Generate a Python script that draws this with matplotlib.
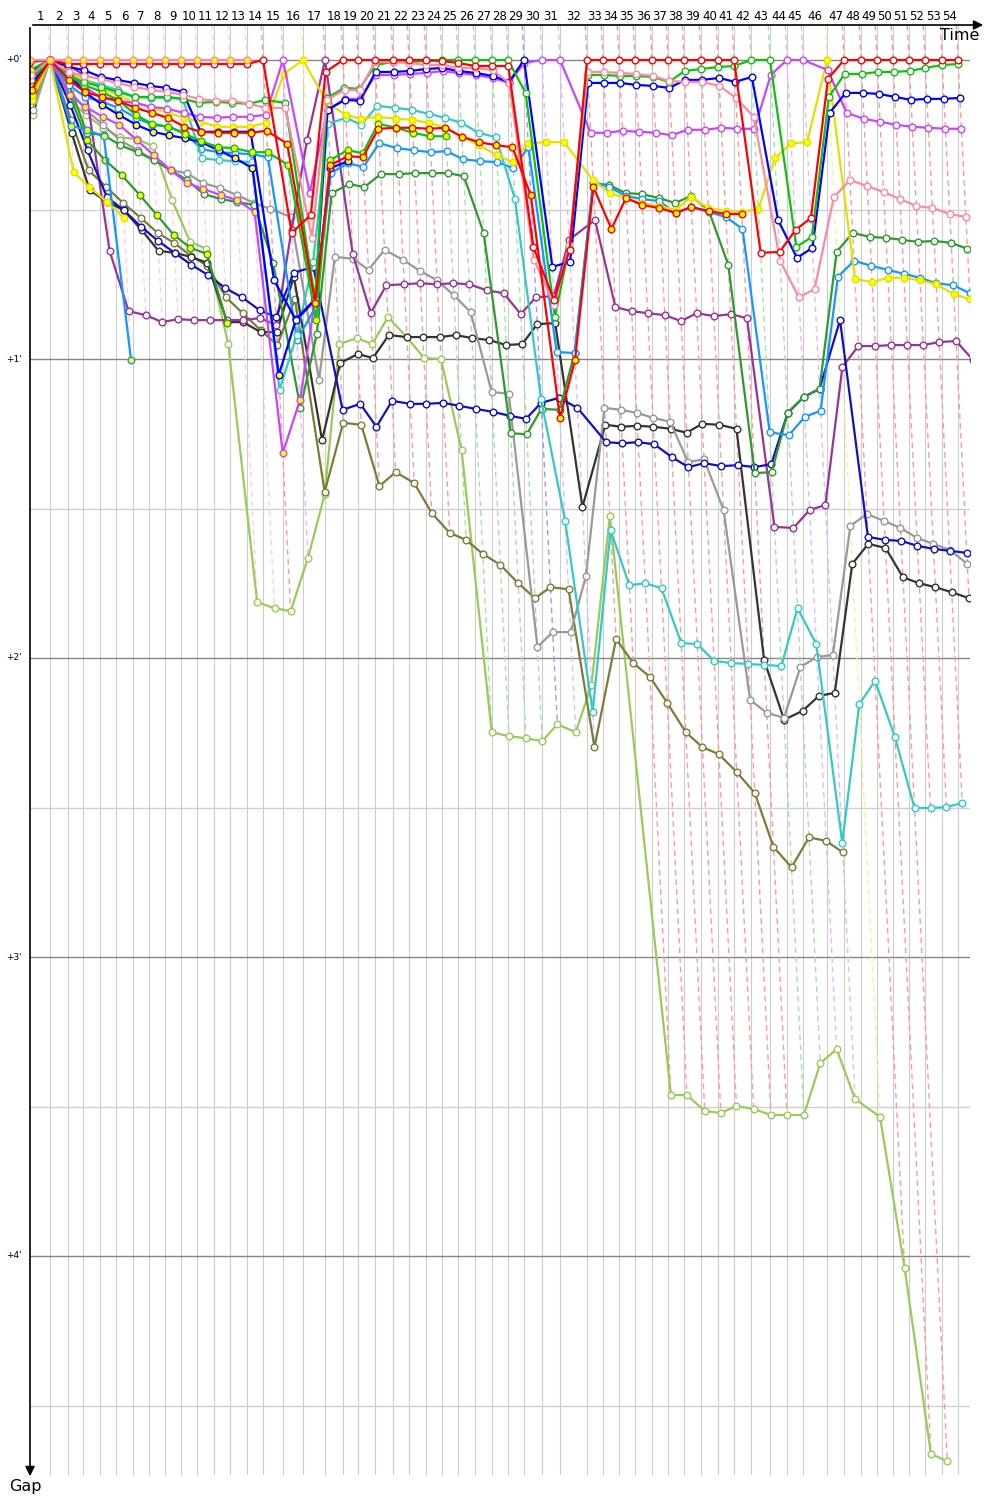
import matplotlib
matplotlib.use("Agg")
import matplotlib.pyplot as plt
from matplotlib.colors import to_rgb
from matplotlib.transforms import blended_transform_factory

# leader's race time at the end of each lap, in seconds (index = lap, 0 = start)
lap_end = [0, 80, 152, 212, 280, 344, 412, 476, 540, 604, 668, 736, 800, 868, 932,
           1012, 1092, 1180, 1252, 1312, 1380, 1452, 1516, 1584, 1648, 1712, 1780,
           1848, 1912, 1976, 2048, 2120, 2228, 2292, 2356, 2420, 2488, 2552, 2616,
           2684, 2752, 2816, 2884, 2960, 3028, 3092, 3188, 3256, 3324, 3388, 3452,
           3516, 3580, 3648, 3712]
lap_labels = [str(n) for n in range(1, 55)]
gap_ticks = [0, 60, 120, 180, 240]
gap_tick_labels = ["+0'", "+1'", "+2'", "+3'", "+4'"]

# gap to the leader in seconds, lap 0 .. last lap completed
pink_y = [0, 0, 0, 0, 0, 0, 0, 0, 0, 0, 0, 0, 0, 0]
red_w = [0.4, 0, 0.8, 0.8, 0.8, 0.8, 0.8, 0.8, 0.8, 0.8, 0.8, 0.8, 0.8, 0.8, 0, 34.7, 31.1, 2.4,
         0, 0, 0, 0, 0, 0, 0.2, 0.6, 1.2, 1.2, 1.2, 37.5, 48.2, 38.1,
         0, 0, 0, 0, 0, 0, 0, 0, 0, 0, 38.7, 38.5, 34.1, 31.7, 3.8, 0, 0, 0, 0, 0, 0, 0, 0]
red_y = [6.0, 0, 4.0, 6.4, 7.4, 8.2, 9.6, 10.6, 11.6, 13.4, 14.4, 14.6, 14.6, 14.6, 14.2, 16.8,
         48.8, 21.1, 19.3, 19.5, 13.8, 13.6, 13.6, 13.8, 13.6, 15.4, 16.5, 17.1, 17.5, 27.1,
         71.8, 60.2, 25.5, 33.9, 27.7, 29.1, 29.7, 30.7, 29.5, 30.3, 30.9, 30.9]
pink_w = [3.0, 0, 2.4, 3.2, 3.8, 4.6, 5.4, 6.0, 6.4, 7.0, 7.8, 8.2, 8.2, 8.8, 9.6, 9.6, 35.7, 8.0,
          6.0, 6.0, 0.4, 0.4, 0.6, 1.0, 1.0, 1.6, 1.6, 2.0, 4.6, 40.1, 49.2, 37.1, 2.4, 2.4, 2.6,
          2.8, 3.2, 4.2, 4.4, 4.4, 5.2, 7.6, 11.4, 40.3, 47.6, 46.0, 27.5, 24.1, 25.3, 26.5, 27.9,
          29.3, 29.7, 30.9, 31.5]
green_w = [4.0, 0, 3.4, 4.4, 5.4, 6.4, 7.4, 7.4, 7.4, 7.8, 8.6, 8.4, 8.6, 8.8, 8.0, 8.6, 48.2, 7.6,
           5.6, 5.8, 1.0, 0.4, 0.4, 0.2, 0, 0, 0, 0, 0, 6.6, 51.6, 37.3, 3.0, 3.0, 3.2, 3.2, 3.4,
           4.4, 2.2, 1.8, 1.4, 1.2, 0, 0, 37.5, 35.5, 7.4, 2.8, 2.8, 2.4, 2.4, 2.2, 1.6, 1.0, 0.8]
green_y = [2.0, 0, 3.2, 5.0, 6.4, 8.0, 11.0, 12.8, 13.4, 14.8, 16.3, 17.5, 17.7, 18.5, 18.5, 21.1,
           52.2, 20.1, 18.1, 18.7, 12.8, 13.6, 14.6, 15.3, 15.3]
blue_w = [2.4, 0, 1.4, 2.0, 3.4, 4.0, 4.6, 5.2, 5.6, 6.4, 14.4, 14.4, 14.4, 14.4, 44.2, 52.2, 48.2,
          10.0, 8.0, 8.2, 2.4, 2.4, 2.2, 1.8, 1.6, 2.2, 2.6, 3.2, 4.4, 0, 41.5, 40.5, 4.6, 4.6, 4.6,
          5.0, 5.2, 5.6, 4.0, 4.0, 3.6, 4.4, 3.4, 32.1, 39.7, 37.7, 10.6, 6.6, 6.6, 6.8, 7.4, 8.0,
          7.8, 7.8, 7.6]
blue_y = [5.0, 0, 3.0, 6.4, 9.0, 11.0, 13.0, 14.4, 15.1, 15.7, 16.5, 18.1, 19.7, 21.7, 63.2, 52.0,
          48.0, 21.7, 20.3]
violet_w = [3.6, 0, 3.6, 5.4, 7.6, 8.2, 8.6, 9.4, 9.8, 10.6, 11.4, 11.6, 11.4, 11.4, 11.0, 0, 26.7,
            10.0, 7.8, 7.8, 3.0, 3.0, 2.8, 2.6, 2.2, 2.6, 3.0, 3.6, 4.6, 0.6, 0, 0, 14.6, 14.6,
            14.2, 14.4, 14.6, 15.1, 14.0, 14.0, 13.6, 13.8, 13.8, 3.0, 0, 0, 2.0, 10.6, 11.8, 12.4,
            13.0, 13.4, 13.6, 13.8, 13.8]
violet_y = [5.6, 0, 7.0, 9.4, 11.4, 13.0, 16.1, 19.1, 22.1, 24.7, 25.9, 27.1, 28.1, 30.5, 78.9,
            68.2, 48.2]
yellow_1 = [7.0, 0, 2.4, 4.0, 5.6, 7.0, 8.6, 9.6, 10.6, 11.6, 12.4, 13.4, 13.4, 13.4, 12.6, 2.8, 0,
            8.6, 11.0, 11.8, 11.4, 11.8, 12.0, 12.6, 13.6, 15.4, 17.1, 19.1, 20.5, 16.7, 16.5, 16.5,
            24.1, 26.7, 27.7, 28.7, 29.3, 30.1, 27.5, 29.7, 30.3, 30.5, 29.9, 19.7, 16.7, 16.5, 0,
            43.9, 44.6, 43.7, 43.7, 44.2, 45.0, 47.0, 48.0]
yellow_2 = [8.0, 0, 22.5, 25.5, 28.5, 31.7]
cyan = [5.0, 0, 3.0, 4.0, 5.0, 6.0, 7.4, 7.6, 7.6, 7.8, 19.7, 20.1, 20.3, 20.5, 66.2, 55.2, 40.5,
        12.8, 11.6, 13.0, 9.2, 9.6, 10.0, 10.8, 11.6, 12.6, 14.6, 15.5, 27.9, 68.0, 92.5, 130.8,
        94.3, 105.4, 105.0, 106.0, 117.0, 117.2, 120.6, 121.0, 121.2, 121.4, 121.6, 110.0, 117.2,
        157.1, 129.2, 124.6, 135.9, 150.1, 150.1, 149.9, 149.1]
sky_w = [4.0, 0, 5.0, 7.4, 8.4, 9.6, 11.6, 13.0, 13.4, 14.6, 17.9, 18.5, 18.7, 18.9, 19.5, 56.2,
         49.6, 22.7, 20.7, 21.5, 16.7, 17.7, 18.1, 18.5, 18.3, 19.9, 20.3, 20.5, 21.7, 17.5, 58.6,
         58.8, 24.5, 25.5, 27.3, 27.9, 28.3, 30.7, 29.5, 30.5, 31.5, 33.9, 74.7, 75.3, 71.6, 70.4,
         43.5, 40.3, 41.3, 42.1, 42.9, 43.7, 44.8, 45.2, 46.8]
sky_y = [8.0, 0, 13.2, 14.0, 15.3, 60.2]
forest_w = [7.0, 0, 5.0, 14.6, 15.1, 17.1, 18.5, 20.1, 22.1, 24.1, 26.9, 27.9, 28.5, 29.1, 40.7,
            69.8, 55.0, 26.7, 24.9, 25.5, 22.9, 22.9, 22.7, 22.7, 22.7, 23.3, 34.7, 74.9, 75.1,
            70.0, 70.2, 58.8, 24.7, 25.1, 26.7, 26.9, 27.7, 28.7, 27.3, 30.1, 41.1, 82.9, 82.7,
            70.8, 67.6, 66.0, 38.5, 34.7, 35.5, 35.7, 36.1, 36.5, 36.3, 36.7, 37.9]
forest_y = [8.0, 0, 7.0, 16.1, 20.1, 23.1, 27.1, 31.1, 35.1, 37.7, 38.9, 52.8]
navy = [6.0, 0, 9.0, 18.1, 27.5, 30.1, 33.5, 36.3, 38.7, 41.1, 43.1, 45.8, 47.6, 50.2, 51.6, 42.7,
        41.5, 70.2, 69.0, 73.6, 68.4, 69.0, 69.0, 68.8, 69.4, 70.0, 70.6, 71.4, 72.0, 68.8, 67.8,
        69.8, 76.7, 76.9, 76.7, 77.1, 79.7, 81.7, 80.9, 81.5, 81.3, 81.7, 81.1, 70.8, 67.6, 66.0,
        52.2, 95.7, 96.3, 96.5, 97.5, 98.1, 98.5, 98.9]
plum = [2.0, 0, 1.0, 3.0, 38.3, 50.4, 51.2, 52.6, 52.0, 52.2, 52.2, 52.2, 52.2, 51.8, 53.2, 34.1,
        16.1, 0, 38.9, 50.8, 45.2, 45.0, 44.8, 45.0, 44.8, 45.0, 46.2, 46.8, 51.0, 47.6, 47.4, 36.1,
        32.1, 49.6, 50.4, 50.8, 51.2, 52.4, 50.8, 51.4, 51.0, 51.8, 93.7, 93.9, 90.3, 89.3, 61.6,
        57.4, 57.4, 57.2, 57.2, 57.2, 56.6, 56.4, 60.2]
grey = [10.0, 0, 6.0, 10.0, 13.0, 16.1, 18.1, 20.1, 22.1, 22.7, 24.7, 25.7, 27.1, 28.7, 29.9, 31.5,
        64.2, 39.5, 39.9, 42.1, 38.1, 40.1, 42.3, 44.2, 47.2, 50.6, 66.6, 67.0, 117.8, 114.8, 114.8,
        103.6, 69.8, 70.2, 70.8, 71.8, 72.6, 80.7, 80.1, 90.3, 128.4, 131.0, 132.0, 121.8, 119.8,
        119.4, 93.5, 91.1, 92.5, 93.9, 95.9, 97.1, 98.3, 101.1]
black = [9.0, 0, 14.6, 26.1, 28.5, 30.1, 34.1, 38.3, 38.7, 39.5, 40.7, 52.6, 52.6, 54.6, 54.6, 43.5,
         76.3, 60.8, 59.0, 59.8, 55.2, 55.6, 55.6, 55.6, 55.2, 55.8, 56.2, 57.2, 57.0, 53.0, 52.8,
         89.7, 73.2, 73.6, 73.4, 73.6, 74.0, 74.8, 73.0, 73.2, 74.0, 120.4, 132.4, 130.6, 127.6,
         127.0, 101.1, 97.1, 97.9, 103.8, 105.0, 105.8, 106.8, 108.0]
olive = [8.0, 0, 12.0, 22.1, 25.5, 28.7, 31.7, 34.7, 36.7, 39.3, 41.3, 47.6, 50.8, 54.2, 57.2, 48.0,
         86.7, 72.8, 73.2, 85.5, 82.7, 84.9, 90.9, 94.9, 96.3, 99.1, 101.3, 105.0, 108.0, 105.8,
         106.2, 137.9, 116.2, 121.0, 123.8, 129.0, 134.9, 137.9, 139.3, 142.9, 147.1, 157.9, 162.0,
         156.0, 156.7, 159.0]
lime = [11.0, 0, 8.0, 11.0, 13.6, 15.5, 15.9, 17.3, 28.1, 36.5, 37.9, 57.0, 108.8, 110.0, 110.6,
        99.9, 87.1, 57.0, 55.8, 57.0, 51.6, 55.6, 59.8, 60.0, 78.3, 134.9, 135.7, 136.1, 136.7,
        133.3, 134.9, 125.5, 91.5, None, 207.7, 207.7, 210.9, 211.3, 209.9, 210.5, 211.7, 211.7,
        211.7, 201.3, 198.5, 208.5, 212.1, 242.4, 279.7, 281.2]

# drawing order (bottom first): gaps, line colour, marker fill
series = [
    (lime, "#9bc95a", "white"),
    (olive, "#7c7c3a", "white"),
    (black, "#333333", "white"),
    (grey, "#999999", "white"),
    (plum, "#993399", "white"),
    (navy, "#1010c0", "white"),
    (forest_y, "#2e9a2e", "#ffff00"),
    (forest_w, "#2e9a2e", "white"),
    (sky_y, "#1597ff", "#ffff00"),
    (sky_w, "#1597ff", "white"),
    (cyan, "#33c9c9", "white"),
    (yellow_2, "#e3e000", "#ffff00"),
    (yellow_1, "#e3e000", "#ffff00"),
    (violet_y, "#cc44ff", "#ffff00"),
    (violet_w, "#cc44ff", "white"),
    (blue_y, "#0000ff", "#ffff00"),
    (blue_w, "#0000ff", "white"),
    (green_y, "#10c010", "#ffff00"),
    (green_w, "#10c010", "white"),
    (pink_w, "#ff88a4", "white"),
    (red_y, "#ff0000", "#ffff00"),
    (red_w, "#ff0000", "white"),
    (pink_y, "#ff88a4", "#ffff00"),
]
# tie-break when several cars show the same gap
leader_order = [pink_y, red_w, green_w, blue_w, violet_w, yellow_1, plum]

W, H = 1000, 1500
fig = plt.figure(figsize=(W / 100, H / 100), dpi=100)
ax = fig.add_axes([30 / W, 1 - 1475 / H, 940 / W, 1450 / H])
g_top = -35 * 60 / 299
ax.set_xlim(0, 3760)
ax.set_ylim(1415 * 60 / 299, g_top)
ax.axis("off")

# grid
for t in lap_end[1:]:
    ax.axvline(t, color="#cccccc", lw=0.8, zorder=0)
for g in range(0, 271, 30):
    ax.axhline(g, color="#858585" if g % 60 == 0 else "#d0d0d0", lw=1.0, zorder=0.5)


def light(c):
    r, g, b = to_rgb(c)
    return (r * 0.4 + 0.6, g * 0.4 + 0.6, b * 0.4 + 0.6)


# one dashed line per lap, from the top to the last car, in the leader's colour
for k in range(1, len(lap_end)):
    on_lap = [(s[k], col) for s, col, _ in series if len(s) > k and s[k] is not None]
    gmax = max(g for g, _ in on_lap)
    best = min(g for g, _ in on_lap)
    lead_col = None
    for s in leader_order:
        if len(s) > k and s[k] == best:
            lead_col = [c for ss, c, _ in series if ss is s][0]
            break
    if lead_col is None:
        lead_col = [c for g, c in on_lap if g == best][0]
    ax.plot([lap_end[k] + g_top, lap_end[k] + gmax], [g_top, gmax], color=light(lead_col),
            lw=1.0, ls=(0, (4, 3)), zorder=1)

for s, col, fill in series:
    xs = [lap_end[k] + g for k, g in enumerate(s) if g is not None]
    ys = [g for g in s if g is not None]
    ax.plot(xs, ys, "-o", color=col, lw=1.6, ms=4.8, mfc=fill, mec=col, mew=1.0, zorder=3)

# lap numbers along the top
tr = blended_transform_factory(ax.transData, ax.transAxes)
for k, lab in enumerate(lap_labels, start=1):
    ax.text((lap_end[k - 1] + lap_end[k]) / 2, 1 + 8 / 1450, lab, transform=tr,
            ha="center", va="center", fontsize=8.5)

tr2 = blended_transform_factory(ax.transAxes, ax.transData)
for g, lab in zip(gap_ticks, gap_tick_labels):
    ax.text(-16 / 940, g, lab, transform=tr2, ha="center", va="center", fontsize=6.5)

# axes with arrow heads
ax.annotate("", xy=(986 / W, 1 - 25 / H), xytext=(30 / W, 1 - 25 / H),
            xycoords="figure fraction", textcoords="figure fraction",
            arrowprops=dict(arrowstyle="-|>", color="black", lw=1.2, mutation_scale=14))
ax.annotate("", xy=(30 / W, 1 - 1479 / H), xytext=(30 / W, 1 - 25 / H),
            xycoords="figure fraction", textcoords="figure fraction",
            arrowprops=dict(arrowstyle="-|>", color="black", lw=1.2, mutation_scale=14))
fig.text(960 / W, 1 - 35 / H, "Time", ha="center", va="center", fontsize=11.5)
fig.text(25 / W, 1 - 1487 / H, "Gap", ha="center", va="center", fontsize=11.5)

fig.savefig("out.png", dpi=100)
